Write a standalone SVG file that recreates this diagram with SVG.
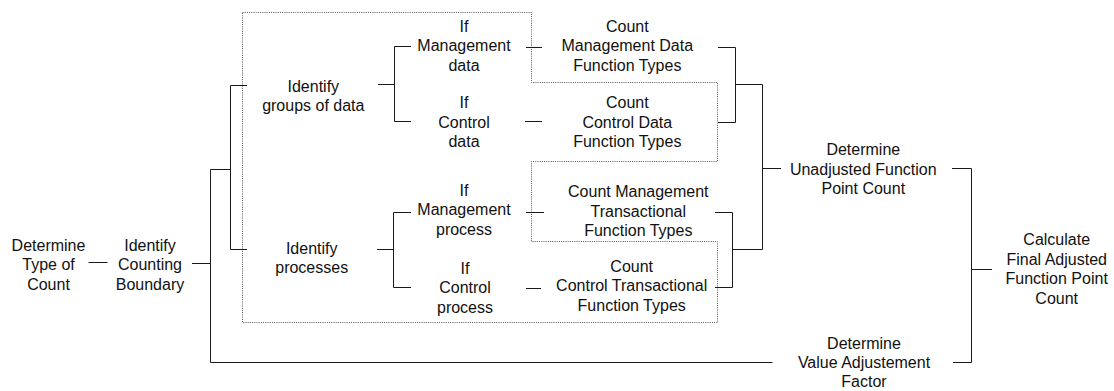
<svg xmlns="http://www.w3.org/2000/svg" width="1114" height="391" viewBox="0 0 1114 391">
<style>
text{font-family:"Liberation Sans",Arial,sans-serif;font-size:16px;fill:#111;text-anchor:middle}
.c{fill:none;stroke:#1a1a1a;stroke-width:1}
.b{fill:none;stroke:#555;stroke-width:1;stroke-dasharray:1 1.2}
</style>
<rect width="1114" height="391" fill="#fff"/>
<g id="boundary">
<path class="b" d="M242.5 12.5 H531.5 V82.5 H717.5 V161.5 H531.5 V241.5 H717.5 V322.5 H242.5 Z"/>
</g>
<g id="connectors">
<path class="c" d="M88.5 262.5 H107.5"/>
<path class="c" d="M192 263.5 H210.5"/>
<path class="c" d="M210.5 169.5 V362.5 H772.5"/>
<path class="c" d="M210.5 169.5 H230.5"/>
<path class="c" d="M247 85.5 H230.5 V249.5 H247"/>
<path class="c" d="M378 84.5 H394.5"/>
<path class="c" d="M411 46.5 H394.5 V121.5 H411"/>
<path class="c" d="M377 249.5 H393.5"/>
<path class="c" d="M411 212.5 H393.5 V287.5 H411"/>
<path class="c" d="M526 47.5 H542"/>
<path class="c" d="M525 121.5 H542"/>
<path class="c" d="M526 212.5 H544"/>
<path class="c" d="M526 288.5 H541"/>
<path class="c" d="M718 47.5 H735.5 V122.5 H718"/>
<path class="c" d="M735.5 84.5 H762.5"/>
<path class="c" d="M715 212.5 H732.5 V287.5 H715"/>
<path class="c" d="M732.5 249.5 H762.5"/>
<path class="c" d="M762.5 84.5 V249.5"/>
<path class="c" d="M762.5 168.5 H781"/>
<path class="c" d="M952 168.5 H971.5 V362.5 H953"/>
<path class="c" d="M971.5 269.5 H992"/>
</g>
<g id="n-type"><text x="48.5" y="251">Determine</text><text x="48.5" y="270.3">Type of</text><text x="48.5" y="289.6">Count</text></g>
<g id="n-boundary"><text x="150" y="251">Identify</text><text x="150" y="270.3">Counting</text><text x="150" y="289.6">Boundary</text></g>
<g id="n-groups"><text x="313.3" y="91.7">Identify</text><text x="313.3" y="111">groups of data</text></g>
<g id="n-processes"><text x="311.7" y="254">Identify</text><text x="311.7" y="273.3">processes</text></g>
<g id="n-if-mdata"><text x="464" y="31.7">If</text><text x="464" y="51.4">Management</text><text x="464" y="71">data</text></g>
<g id="n-if-cdata"><text x="464" y="108">If</text><text x="464" y="127.5">Control</text><text x="464" y="147">data</text></g>
<g id="n-if-mproc"><text x="464" y="195.5">If</text><text x="464" y="215">Management</text><text x="464" y="234.5">process</text></g>
<g id="n-if-cproc"><text x="465" y="274">If</text><text x="465" y="293.3">Control</text><text x="465" y="312.6">process</text></g>
<g id="n-count-mdata"><text x="627.3" y="31.7">Count</text><text x="627.3" y="51.4">Management Data</text><text x="627.3" y="71">Function Types</text></g>
<g id="n-count-cdata"><text x="627.3" y="108">Count</text><text x="627.3" y="127.5">Control Data</text><text x="627.3" y="147">Function Types</text></g>
<g id="n-count-mtrans"><text x="638.3" y="197">Count Management</text><text x="638.3" y="216.5">Transactional</text><text x="638.3" y="236">Function Types</text></g>
<g id="n-count-ctrans"><text x="631.7" y="272">Count</text><text x="631.7" y="291.3">Control Transactional</text><text x="631.7" y="310.6">Function Types</text></g>
<g id="n-ufp"><text x="863.3" y="155">Determine</text><text x="863.3" y="174.6">Unadjusted Function</text><text x="863.3" y="194.2">Point Count</text></g>
<g id="n-vaf"><text x="864" y="349.3">Determine</text><text x="864" y="368.3">Value Adjustement</text><text x="864" y="387.3">Factor</text></g>
<g id="n-final"><text x="1056.7" y="245">Calculate</text><text x="1056.7" y="264.5">Final Adjusted</text><text x="1056.7" y="284">Function Point</text><text x="1056.7" y="303.5">Count</text></g>
</svg>
